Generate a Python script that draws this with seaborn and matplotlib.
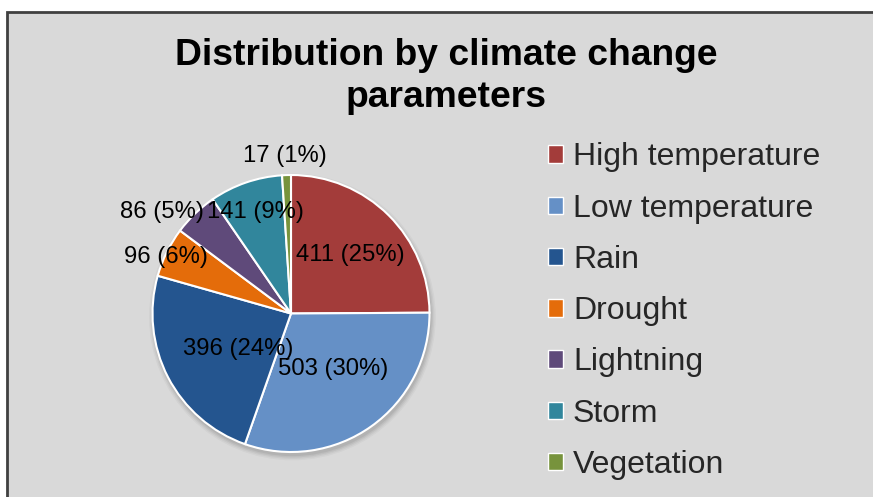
import numpy as np
import matplotlib
matplotlib.use("Agg")
import matplotlib.pyplot as plt
import seaborn as sns
from matplotlib.patches import Patch, Rectangle, Circle

# ---- data ----
categories = ["High temperature", "Low temperature", "Rain", "Drought",
              "Lightning", "Storm", "Vegetation"]
counts = [411, 503, 396, 96, 86, 141, 17]
title_lines = ["Distribution by climate change", "parameters"]

# ---- styles / positions ----
slice_colors = ["#A33C3A", "#6590C6", "#24558F", "#E46C0A",
                "#5F4A7A", "#31869C", "#77933C"]
# label centres in pie-radius units (Excel "best fit" placement)
label_pos = [(0.430, 0.422), (0.305, -0.401), (-0.378, -0.254),
             (-0.903, 0.408), (-0.931, 0.733), (-0.260, 0.733),
             (-0.043, 1.137)]

sns.set_theme(style="white")
plt.rcParams["font.family"] = ["Liberation Sans", "DejaVu Sans"]
palette = sns.color_palette(slice_colors)

W, H = 873, 497
fig = plt.figure(figsize=(W / 100, H / 100), dpi=100)
fig.patch.set_facecolor("white")

# chart area background with border
fig.add_artist(Rectangle((6.5 / W, -0.05), 1.0, 1 - 11.5 / H + 0.05,
                         transform=fig.transFigure, facecolor="#d9d9d9",
                         edgecolor="#404040", linewidth=2, zorder=0))

# title
fig.text(446 / W, 1 - 65 / H, title_lines[0], ha="center", va="baseline",
         fontsize=26.8, fontweight="bold", color="black")
fig.text(446 / W, 1 - 107 / H, title_lines[1], ha="center", va="baseline",
         fontsize=26.8, fontweight="bold", color="black")

# pie axes
R_px, cx, cy = 138.5, 291, 313.5
lim = 1.45
half = lim * R_px
ax = fig.add_axes([(cx - half) / W, (H - cy - half) / H, 2 * half / W, 2 * half / H])
ax.set_facecolor("none")

# soft shadow
for r, a in zip([1.035, 1.025, 1.015, 1.005], [0.03, 0.04, 0.05, 0.06]):
    ax.add_patch(Circle((0.01, -0.025), r, facecolor="black", edgecolor="none",
                        alpha=a, zorder=0))

wedges, _ = ax.pie(counts, colors=palette, startangle=90, counterclock=False,
                   radius=1, wedgeprops=dict(edgecolor="white", linewidth=1.5, zorder=2))
for w in wedges:
    w.set_zorder(2)

total = sum(counts)
for v, (lx, ly) in zip(counts, label_pos):
    pct = int(round(100 * v / total))
    ax.text(lx, ly, f"{v} ({pct}%)", ha="center", va="center",
            fontsize=17.2, color="black", zorder=5, clip_on=False)

ax.set_xlim(-lim, lim)
ax.set_ylim(-lim, lim)
ax.set_aspect("equal")
ax.axis("off")

# legend
handles = [Patch(facecolor=c, edgecolor="white", linewidth=1, label=lab)
           for c, lab in zip(palette, categories)]
fig.legend(handles=handles, loc="upper left",
           bbox_to_anchor=(548 / W, 1 - 142.5 / H), frameon=False,
           fontsize=23, handlelength=0.47, handleheight=0.47,
           handletextpad=0.31, labelspacing=0.665, borderpad=0,
           borderaxespad=0)

fig.savefig("out.png", dpi=100)
